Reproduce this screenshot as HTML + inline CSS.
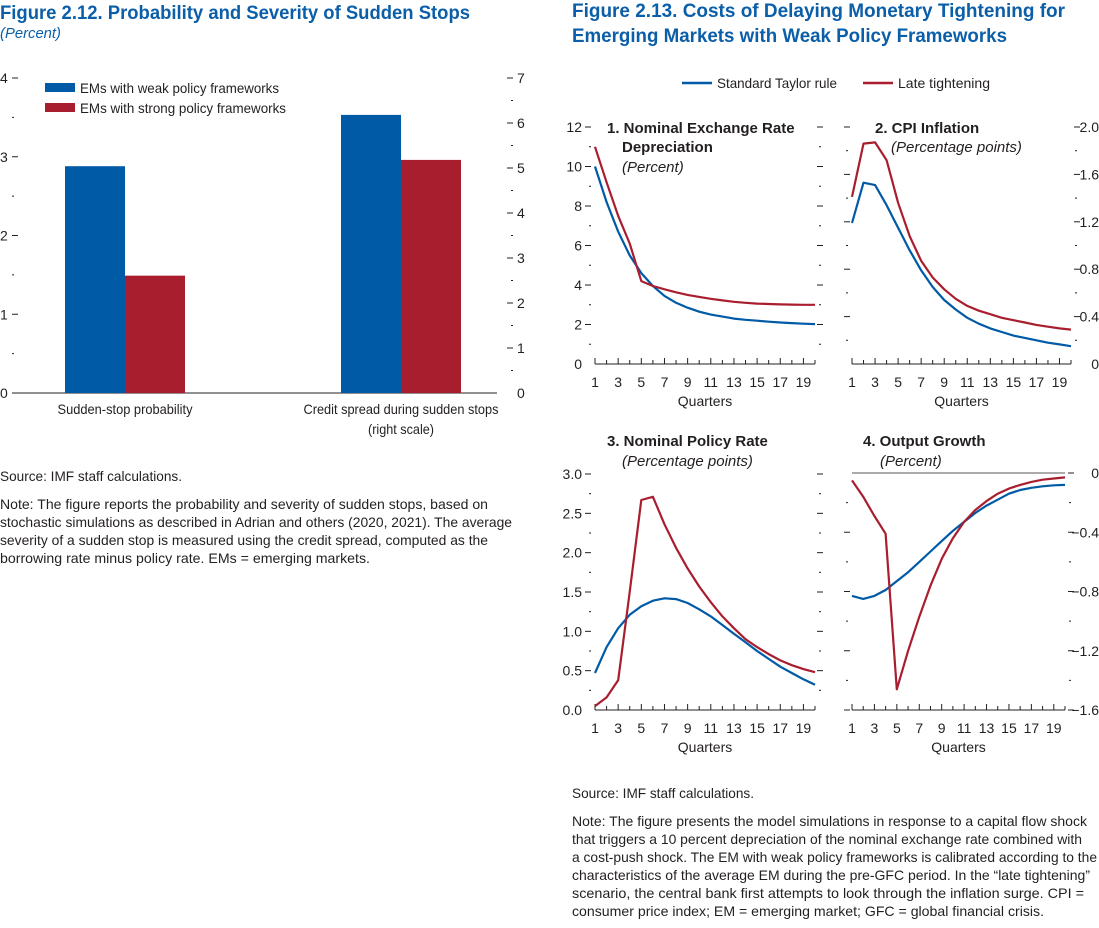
<!DOCTYPE html>
<html><head><meta charset="utf-8">
<style>
html,body{margin:0;padding:0;background:#fff;}
svg{display:block;font-family:"Liberation Sans Narrow","Liberation Sans",sans-serif;}
</style></head>
<body>
<svg id="fig" width="1099" height="928" viewBox="0 0 1099 928" xmlns="http://www.w3.org/2000/svg">
<g id="static" fill="#231f20" font-size="14">
<text x="0" y="19" font-size="19" font-weight="bold" fill="#0b5ea8" textLength="470" lengthAdjust="spacingAndGlyphs">Figure 2.12.  Probability and Severity of Sudden Stops</text>
<text x="0" y="38" font-size="15" font-style="italic" fill="#0b5ea8" textLength="61" lengthAdjust="spacingAndGlyphs">(Percent)</text>
<text x="572" y="17" font-size="19" font-weight="bold" fill="#0b5ea8" textLength="493" lengthAdjust="spacingAndGlyphs">Figure 2.13.  Costs of Delaying Monetary Tightening for</text>
<text x="572" y="42" font-size="19" font-weight="bold" fill="#0b5ea8" textLength="435" lengthAdjust="spacingAndGlyphs">Emerging Markets with Weak Policy Frameworks</text>

<rect x="45" y="83" width="30" height="9" fill="#005aa6"/>
<text x="80" y="93" textLength="199" lengthAdjust="spacingAndGlyphs">EMs with weak policy frameworks</text>
<rect x="45" y="103" width="30" height="9" fill="#a91e2f"/>
<text x="80" y="113" textLength="206" lengthAdjust="spacingAndGlyphs">EMs with strong policy frameworks</text>
<text x="125" y="414" text-anchor="middle" textLength="135" lengthAdjust="spacingAndGlyphs">Sudden-stop probability</text>
<text x="401" y="414" text-anchor="middle" textLength="195" lengthAdjust="spacingAndGlyphs">Credit spread during sudden stops</text>
<text x="401" y="434" text-anchor="middle" textLength="66" lengthAdjust="spacingAndGlyphs">(right scale)</text>

<text x="0" y="481" textLength="182" lengthAdjust="spacingAndGlyphs">Source: IMF staff calculations.</text>
<g>
<text x="0" y="509" textLength="488" lengthAdjust="spacingAndGlyphs">Note: The figure reports the probability and severity of sudden stops, based on</text>
<text x="0" y="527" textLength="512" lengthAdjust="spacingAndGlyphs">stochastic simulations as described in Adrian and others (2020, 2021). The average</text>
<text x="0" y="545" textLength="488" lengthAdjust="spacingAndGlyphs">severity of a sudden stop is measured using the credit spread, computed as the</text>
<text x="0" y="563" textLength="370" lengthAdjust="spacingAndGlyphs">borrowing rate minus policy rate. EMs = emerging markets.</text>
</g>

<line x1="682" y1="83" x2="712" y2="83" stroke="#005aa6" stroke-width="2.5"/>
<text x="717" y="88" textLength="120" lengthAdjust="spacingAndGlyphs">Standard Taylor rule</text>
<line x1="863" y1="83" x2="893" y2="83" stroke="#a91e2f" stroke-width="2.5"/>
<text x="898" y="88" textLength="92" lengthAdjust="spacingAndGlyphs">Late tightening</text>

<text x="572" y="798" textLength="182" lengthAdjust="spacingAndGlyphs">Source: IMF staff calculations.</text>
<g>
<text x="572" y="826" textLength="515" lengthAdjust="spacingAndGlyphs">Note: The figure presents the model simulations in response to a capital flow shock</text>
<text x="572" y="844" textLength="510" lengthAdjust="spacingAndGlyphs">that triggers a 10 percent depreciation of the nominal exchange rate combined with</text>
<text x="572" y="862" textLength="525" lengthAdjust="spacingAndGlyphs">a cost-push shock. The EM with weak policy frameworks is calibrated according to the</text>
<text x="572" y="880" textLength="518" lengthAdjust="spacingAndGlyphs">characteristics of the average EM during the pre-GFC period. In the “late tightening”</text>
<text x="572" y="898" textLength="512" lengthAdjust="spacingAndGlyphs">scenario, the central bank first attempts to look through the inflation surge. CPI =</text>
<text x="572" y="916" textLength="472" lengthAdjust="spacingAndGlyphs">consumer price index; EM = emerging market; GFC = global financial crisis.</text>
</g>
</g>
<g id="charts"></g>
</svg>
<script>
// ---- Figure 2.12 data ----
const barCategories = ["Sudden-stop probability", "Credit spread during sudden stops"];
const weakValues = [2.88, 6.18];
const strongValues = [1.49, 5.18];
const barScaleSide = ["left", "right"];
const leftTicks = [0, 1, 2, 3, 4];
const rightTicks = [0, 1, 2, 3, 4, 5, 6, 7];

// ---- Figure 2.13 data ----
const quarters = [1,2,3,4,5,6,7,8,9,10,11,12,13,14,15,16,17,18,19,20];
const quarterLabels = [1,3,5,7,9,11,13,15,17,19];
const fxTaylor = [10, 8.2, 6.7, 5.5, 4.6, 3.95, 3.45, 3.1, 2.85, 2.65, 2.5, 2.4, 2.3, 2.24, 2.19, 2.14, 2.1, 2.07, 2.04, 2.02];
const fxLate = [11, 9.2, 7.5, 6.1, 4.2, 3.95, 3.78, 3.63, 3.5, 3.4, 3.3, 3.22, 3.15, 3.1, 3.06, 3.04, 3.02, 3.01, 3.0, 3.0];
const cpiTaylor = [1.19, 1.53, 1.51, 1.34, 1.15, 0.96, 0.79, 0.65, 0.54, 0.46, 0.39, 0.34, 0.3, 0.27, 0.24, 0.22, 0.2, 0.18, 0.165, 0.15];
const cpiLate = [1.41, 1.86, 1.87, 1.72, 1.36, 1.08, 0.87, 0.73, 0.63, 0.55, 0.49, 0.45, 0.42, 0.39, 0.37, 0.35, 0.33, 0.315, 0.30, 0.29];
const rateTaylor = [0.47, 0.8, 1.04, 1.21, 1.32, 1.39, 1.42, 1.41, 1.36, 1.28, 1.19, 1.08, 0.97, 0.86, 0.75, 0.65, 0.55, 0.47, 0.39, 0.32];
const rateLate = [0.05, 0.16, 0.38, 1.5, 2.67, 2.71, 2.36, 2.06, 1.8, 1.57, 1.37, 1.19, 1.04, 0.9, 0.8, 0.71, 0.63, 0.57, 0.52, 0.48];
const gdpTaylor = [-0.83, -0.85, -0.83, -0.79, -0.73, -0.67, -0.6, -0.53, -0.46, -0.39, -0.33, -0.27, -0.22, -0.18, -0.14, -0.115, -0.1, -0.09, -0.083, -0.08];
const gdpLate = [-0.05, -0.16, -0.29, -0.41, -1.46, -1.2, -0.97, -0.76, -0.58, -0.44, -0.33, -0.25, -0.19, -0.14, -0.105, -0.08, -0.06, -0.045, -0.037, -0.03];
const fxTicks = [0, 2, 4, 6, 8, 10, 12];
const cpiTicks = ["0", "0.4", "0.8", "1.2", "1.6", "2.0"];
const rateTicks = ["0.0", "0.5", "1.0", "1.5", "2.0", "2.5", "3.0"];
const gdpTicks = ["0", "−0.4", "−0.8", "−1.2", "−1.6"];

const NS = "http://www.w3.org/2000/svg";
const root = document.getElementById("charts");
const BLUE = "#005aa6", RED = "#a91e2f", INK = "#231f20";
function mk(tag, attrs, parent) {
  const e = document.createElementNS(NS, tag);
  for (const k in attrs) e.setAttribute(k, attrs[k]);
  (parent || root).appendChild(e);
  return e;
}
function txt(x, y, s, anchor, parent, size) {
  const t = mk("text", {x: x, y: y, "text-anchor": anchor || "start", "font-size": size || 14, fill: INK}, parent);
  t.textContent = s;
  return t;
}

// ---------- Bar chart ----------
(function () {
  const g = mk("g", {});
  
  
  const y0 = 393, yTop = 78, xL = 12, xR = 497;
  const yLeft = v => y0 - v / 4 * (y0 - yTop);
  const yRight = v => y0 - v / 7 * (y0 - yTop);
  const ax = mk("line", {x1: xL, y1: y0, x2: xR, y2: y0, stroke: INK, "stroke-width": 1}, g);
  
  
  leftTicks.forEach(v => {
    const t = txt(0, yLeft(v) + 5, String(v), "start", g);
    
    
    if (v > 0) mk("line", {x1: 12, x2: 18, y1: yLeft(v), y2: yLeft(v), stroke: INK}, g);
    if (v < 4) mk("line", {x1: 12, x2: 14, y1: yLeft(v + 0.5), y2: yLeft(v + 0.5), stroke: INK}, g);
  });
  rightTicks.forEach(v => {
    const t = txt(517, yRight(v) + 5, String(v), "start", g);
    
    
    if (v > 0) mk("line", {x1: 507, x2: 513, y1: yRight(v), y2: yRight(v), stroke: INK}, g);
    if (v < 7) mk("line", {x1: 511, x2: 513, y1: yRight(v + 0.5), y2: yRight(v + 0.5), stroke: INK}, g);
  });
  const centers = [125, 401], bw = 60;
  barCategories.forEach((c, i) => {
    const sc = barScaleSide[i] === "left" ? yLeft : yRight;
    const b1 = mk("rect", {x: centers[i] - bw, y: sc(weakValues[i]), width: bw, height: y0 - sc(weakValues[i]), fill: BLUE}, g);
    
    
    const b2 = mk("rect", {x: centers[i], y: sc(strongValues[i]), width: bw, height: y0 - sc(strongValues[i]), fill: RED}, g);
    
    
  });
})();

// ---------- Line panels ----------
function panel(cfg) {
  const g = mk("g", {});
  
  
  const xq = q => cfg.x1 + (q - 1) / 19 * (cfg.x20 - cfg.x1);
  const yv = v => cfg.yBot - (v - cfg.vMin) / (cfg.vMax - cfg.vMin) * (cfg.yBot - cfg.yTop);
  const axisY = cfg.axisY;
  const xl = mk("line", {x1: xq(1), x2: xq(20), y1: axisY, y2: axisY, stroke: INK}, g);
  
  
  quarters.forEach(q => {
    mk("line", {x1: xq(q), x2: xq(q), y1: axisY, y2: axisY - (q % 2 ? 6 : 4), stroke: INK}, g);
  });
  quarterLabels.forEach(q => {
    const t = txt(xq(q), axisY + 23, String(q), "middle", g);
    
    
  });
  const xt = txt((xq(1) + xq(20)) / 2, axisY + 42, "Quarters", "middle", g);
  
  
  const n = cfg.ticks.length;
  for (let i = 0; i < n; i++) {
    const v = cfg.vMin + i * cfg.step;
    const y = yv(v);
    const lbl = cfg.ticks[i];
    const skipMajor = (v === cfg.vMin);
    if (cfg.labelSide === "left") {
      const t = txt(cfg.x1 - 13, y + 5, String(lbl), "end", g);
      
      
      if (!skipMajor) mk("line", {x1: cfg.x1 - 10, x2: cfg.x1 - 4, y1: y, y2: y, stroke: INK}, g);
      if (!skipMajor) mk("line", {x1: cfg.x20 + 2, x2: cfg.x20 + 8, y1: y, y2: y, stroke: INK}, g);
    } else {
      const t = txt(1099, y + 5, String(lbl), "end", g);
      
      
      if (!skipMajor || cfg.zeroTop) mk("line", {x1: cfg.x20 + 3, x2: cfg.x20 + 9, y1: y, y2: y, stroke: INK}, g);
      if (!skipMajor) mk("line", {x1: cfg.x1 - 8, x2: cfg.x1 - 2, y1: y, y2: y, stroke: INK}, g);
    }
    if (i < n - 1) {
      const ym = yv(v + cfg.step / 2);
      mk("line", {x1: cfg.x1 - 6, x2: cfg.x1 - 4, y1: ym, y2: ym, stroke: INK}, g);
      mk("line", {x1: cfg.x20 + 4, x2: cfg.x20 + 6, y1: ym, y2: ym, stroke: INK}, g);
    }
  }
  if (cfg.zeroLine) {
    const zl = mk("line", {x1: xq(1), x2: xq(20), y1: yv(0), y2: yv(0), stroke: INK, "stroke-width": 0.8}, g);
    
    
  }
  [[cfg.blue, BLUE, "taylor"], [cfg.red, RED, "late"]].forEach(s => {
    const d = s[0].map((v, i) => (i ? "L" : "M") + xq(quarters[i]).toFixed(1) + " " + yv(v).toFixed(1)).join(" ");
    const p = mk("path", {d: d, fill: "none", stroke: s[1], "stroke-width": 2.2, "stroke-linejoin": "round"}, g);
    
    
  });
  cfg.titles.forEach(t => {
    const e = mk("text", {x: t[0], y: t[1], "font-size": 15, fill: INK, "font-weight": t[3] ? "bold" : "normal", "font-style": t[3] ? "normal" : "italic"}, g);
    e.textContent = t[2];
    
    
  });
}

panel({name: "panel-exchange-rate", x1: 595, x20: 815, yTop: 127, yBot: 364, axisY: 364, vMin: 0, vMax: 12, step: 2,
  ticks: fxTicks, labelSide: "left", blue: fxTaylor, red: fxLate,
  titles: [[607, 133, "1. Nominal Exchange Rate", 1], [622, 152, "Depreciation", 1], [622, 172, "(Percent)", 0]]});
panel({name: "panel-cpi-inflation", x1: 852, x20: 1071, yTop: 127, yBot: 364, axisY: 364, vMin: 0, vMax: 2.0, step: 0.4,
  ticks: cpiTicks, labelSide: "right", blue: cpiTaylor, red: cpiLate,
  titles: [[875, 133, "2. CPI Inflation", 1], [891, 152, "(Percentage points)", 0]]});
panel({name: "panel-policy-rate", x1: 595, x20: 815, yTop: 474, yBot: 710, axisY: 710, vMin: 0, vMax: 3.0, step: 0.5,
  ticks: rateTicks, labelSide: "left", blue: rateTaylor, red: rateLate,
  titles: [[607, 446, "3. Nominal Policy Rate", 1], [622, 466, "(Percentage points)", 0]]});
panel({name: "panel-output-growth", x1: 852, x20: 1065, yTop: 710, yBot: 473, axisY: 710, vMin: 0, vMax: -1.6, step: -0.4,
  ticks: gdpTicks, labelSide: "right", zeroLine: true, zeroTop: true, blue: gdpTaylor, red: gdpLate,
  titles: [[863, 446, "4. Output Growth", 1], [880, 466, "(Percent)", 0]]});
</script>
</body></html>
